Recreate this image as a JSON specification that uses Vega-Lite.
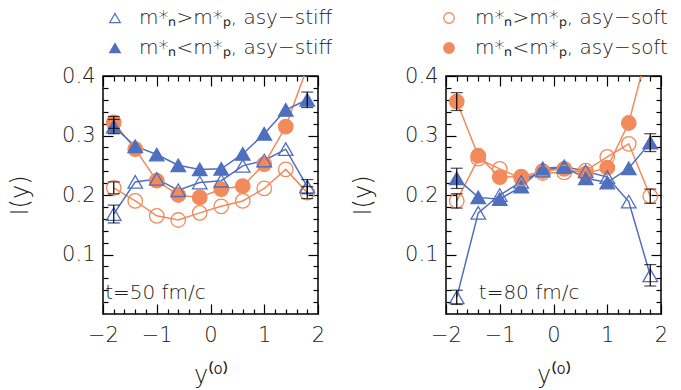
{
  "$schema": "https://vega.github.io/schema/vega-lite/v6.json",
  "background": "white",
  "padding": {"left": 7, "top": 7, "right": 5, "bottom": 2},
  "config": {
    "font": "DejaVu Sans",
    "view": {"stroke": "black", "strokeWidth": 1.5},
    "axis": {"grid": false, "domain": false, "tickColor": "black", "tickWidth": 1.2, "labelFlush": false, "labelOverlap": false, "labelColor": "#222", "titleColor": "#222", "labelFontSize": 21, "labelFontWeight": 300, "titleFontSize": 24, "titleFontWeight": 300}
  },
  "datasets": {
    "pts": [
      {"panel": "t50", "series": "m*ₙ<m*ₚ, asy−soft", "x": -1.8, "I": 0.322, "err": 0.01},
      {"panel": "t50", "series": "m*ₙ<m*ₚ, asy−soft", "x": -1.4, "I": 0.277},
      {"panel": "t50", "series": "m*ₙ<m*ₚ, asy−soft", "x": -1.0, "I": 0.224},
      {"panel": "t50", "series": "m*ₙ<m*ₚ, asy−soft", "x": -0.6, "I": 0.2},
      {"panel": "t50", "series": "m*ₙ<m*ₚ, asy−soft", "x": -0.2, "I": 0.196},
      {"panel": "t50", "series": "m*ₙ<m*ₚ, asy−soft", "x": 0.2, "I": 0.21},
      {"panel": "t50", "series": "m*ₙ<m*ₚ, asy−soft", "x": 0.6, "I": 0.215},
      {"panel": "t50", "series": "m*ₙ<m*ₚ, asy−soft", "x": 1.0, "I": 0.252},
      {"panel": "t50", "series": "m*ₙ<m*ₚ, asy−soft", "x": 1.4, "I": 0.315},
      {"panel": "t50", "series": "m*ₙ<m*ₚ, asy−soft", "x": 1.8, "I": 0.415},
      {"panel": "t50", "series": "m*ₙ>m*ₚ, asy−soft", "x": -1.8, "I": 0.212, "err": 0.01},
      {"panel": "t50", "series": "m*ₙ>m*ₚ, asy−soft", "x": -1.4, "I": 0.19},
      {"panel": "t50", "series": "m*ₙ>m*ₚ, asy−soft", "x": -1.0, "I": 0.165},
      {"panel": "t50", "series": "m*ₙ>m*ₚ, asy−soft", "x": -0.6, "I": 0.158},
      {"panel": "t50", "series": "m*ₙ>m*ₚ, asy−soft", "x": -0.2, "I": 0.17},
      {"panel": "t50", "series": "m*ₙ>m*ₚ, asy−soft", "x": 0.2, "I": 0.181},
      {"panel": "t50", "series": "m*ₙ>m*ₚ, asy−soft", "x": 0.6, "I": 0.19},
      {"panel": "t50", "series": "m*ₙ>m*ₚ, asy−soft", "x": 1.0, "I": 0.211},
      {"panel": "t50", "series": "m*ₙ>m*ₚ, asy−soft", "x": 1.4, "I": 0.243},
      {"panel": "t50", "series": "m*ₙ>m*ₚ, asy−soft", "x": 1.8, "I": 0.204, "err": 0.01},
      {"panel": "t50", "series": "m*ₙ<m*ₚ, asy−stiff", "x": -1.8, "I": 0.315, "err": 0.012},
      {"panel": "t50", "series": "m*ₙ<m*ₚ, asy−stiff", "x": -1.4, "I": 0.282},
      {"panel": "t50", "series": "m*ₙ<m*ₚ, asy−stiff", "x": -1.0, "I": 0.268},
      {"panel": "t50", "series": "m*ₙ<m*ₚ, asy−stiff", "x": -0.6, "I": 0.25},
      {"panel": "t50", "series": "m*ₙ<m*ₚ, asy−stiff", "x": -0.2, "I": 0.243},
      {"panel": "t50", "series": "m*ₙ<m*ₚ, asy−stiff", "x": 0.2, "I": 0.244},
      {"panel": "t50", "series": "m*ₙ<m*ₚ, asy−stiff", "x": 0.6, "I": 0.269},
      {"panel": "t50", "series": "m*ₙ<m*ₚ, asy−stiff", "x": 1.0, "I": 0.303},
      {"panel": "t50", "series": "m*ₙ<m*ₚ, asy−stiff", "x": 1.4, "I": 0.343},
      {"panel": "t50", "series": "m*ₙ<m*ₚ, asy−stiff", "x": 1.8, "I": 0.36, "err": 0.013},
      {"panel": "t50", "series": "m*ₙ>m*ₚ, asy−stiff", "x": -1.8, "I": 0.168, "err": 0.015},
      {"panel": "t50", "series": "m*ₙ>m*ₚ, asy−stiff", "x": -1.4, "I": 0.222},
      {"panel": "t50", "series": "m*ₙ>m*ₚ, asy−stiff", "x": -1.0, "I": 0.227},
      {"panel": "t50", "series": "m*ₙ>m*ₚ, asy−stiff", "x": -0.6, "I": 0.208},
      {"panel": "t50", "series": "m*ₙ>m*ₚ, asy−stiff", "x": -0.2, "I": 0.221},
      {"panel": "t50", "series": "m*ₙ>m*ₚ, asy−stiff", "x": 0.2, "I": 0.224},
      {"panel": "t50", "series": "m*ₙ>m*ₚ, asy−stiff", "x": 0.6, "I": 0.249},
      {"panel": "t50", "series": "m*ₙ>m*ₚ, asy−stiff", "x": 1.0, "I": 0.258},
      {"panel": "t50", "series": "m*ₙ>m*ₚ, asy−stiff", "x": 1.4, "I": 0.277},
      {"panel": "t50", "series": "m*ₙ>m*ₚ, asy−stiff", "x": 1.8, "I": 0.214, "err": 0.012},
      {"panel": "t80", "series": "m*ₙ<m*ₚ, asy−soft", "x": -1.8, "I": 0.357, "err": 0.015},
      {"panel": "t80", "series": "m*ₙ<m*ₚ, asy−soft", "x": -1.4, "I": 0.266},
      {"panel": "t80", "series": "m*ₙ<m*ₚ, asy−soft", "x": -1.0, "I": 0.23},
      {"panel": "t80", "series": "m*ₙ<m*ₚ, asy−soft", "x": -0.6, "I": 0.231},
      {"panel": "t80", "series": "m*ₙ<m*ₚ, asy−soft", "x": -0.2, "I": 0.24},
      {"panel": "t80", "series": "m*ₙ<m*ₚ, asy−soft", "x": 0.2, "I": 0.244},
      {"panel": "t80", "series": "m*ₙ<m*ₚ, asy−soft", "x": 0.6, "I": 0.236},
      {"panel": "t80", "series": "m*ₙ<m*ₚ, asy−soft", "x": 1.0, "I": 0.246},
      {"panel": "t80", "series": "m*ₙ<m*ₚ, asy−soft", "x": 1.4, "I": 0.321},
      {"panel": "t80", "series": "m*ₙ<m*ₚ, asy−soft", "x": 1.8, "I": 0.46},
      {"panel": "t80", "series": "m*ₙ>m*ₚ, asy−soft", "x": -1.8, "I": 0.19, "err": 0.012},
      {"panel": "t80", "series": "m*ₙ>m*ₚ, asy−soft", "x": -1.4, "I": 0.261},
      {"panel": "t80", "series": "m*ₙ>m*ₚ, asy−soft", "x": -1.0, "I": 0.244},
      {"panel": "t80", "series": "m*ₙ>m*ₚ, asy−soft", "x": -0.6, "I": 0.228},
      {"panel": "t80", "series": "m*ₙ>m*ₚ, asy−soft", "x": -0.2, "I": 0.237},
      {"panel": "t80", "series": "m*ₙ>m*ₚ, asy−soft", "x": 0.2, "I": 0.238},
      {"panel": "t80", "series": "m*ₙ>m*ₚ, asy−soft", "x": 0.6, "I": 0.241},
      {"panel": "t80", "series": "m*ₙ>m*ₚ, asy−soft", "x": 1.0, "I": 0.264},
      {"panel": "t80", "series": "m*ₙ>m*ₚ, asy−soft", "x": 1.4, "I": 0.286},
      {"panel": "t80", "series": "m*ₙ>m*ₚ, asy−soft", "x": 1.8, "I": 0.198, "err": 0.012},
      {"panel": "t80", "series": "m*ₙ<m*ₚ, asy−stiff", "x": -1.8, "I": 0.228, "err": 0.017},
      {"panel": "t80", "series": "m*ₙ<m*ₚ, asy−stiff", "x": -1.4, "I": 0.196},
      {"panel": "t80", "series": "m*ₙ<m*ₚ, asy−stiff", "x": -1.0, "I": 0.193},
      {"panel": "t80", "series": "m*ₙ<m*ₚ, asy−stiff", "x": -0.6, "I": 0.214},
      {"panel": "t80", "series": "m*ₙ<m*ₚ, asy−stiff", "x": -0.2, "I": 0.245},
      {"panel": "t80", "series": "m*ₙ<m*ₚ, asy−stiff", "x": 0.2, "I": 0.247},
      {"panel": "t80", "series": "m*ₙ<m*ₚ, asy−stiff", "x": 0.6, "I": 0.228},
      {"panel": "t80", "series": "m*ₙ<m*ₚ, asy−stiff", "x": 1.0, "I": 0.221},
      {"panel": "t80", "series": "m*ₙ<m*ₚ, asy−stiff", "x": 1.4, "I": 0.245},
      {"panel": "t80", "series": "m*ₙ<m*ₚ, asy−stiff", "x": 1.8, "I": 0.288, "err": 0.015},
      {"panel": "t80", "series": "m*ₙ>m*ₚ, asy−stiff", "x": -1.8, "I": 0.028, "err": 0.012},
      {"panel": "t80", "series": "m*ₙ>m*ₚ, asy−stiff", "x": -1.4, "I": 0.17},
      {"panel": "t80", "series": "m*ₙ>m*ₚ, asy−stiff", "x": -1.0, "I": 0.2},
      {"panel": "t80", "series": "m*ₙ>m*ₚ, asy−stiff", "x": -0.6, "I": 0.222},
      {"panel": "t80", "series": "m*ₙ>m*ₚ, asy−stiff", "x": -0.2, "I": 0.241},
      {"panel": "t80", "series": "m*ₙ>m*ₚ, asy−stiff", "x": 0.2, "I": 0.248},
      {"panel": "t80", "series": "m*ₙ>m*ₚ, asy−stiff", "x": 0.6, "I": 0.24},
      {"panel": "t80", "series": "m*ₙ>m*ₚ, asy−stiff", "x": 1.0, "I": 0.23},
      {"panel": "t80", "series": "m*ₙ>m*ₚ, asy−stiff", "x": 1.4, "I": 0.189},
      {"panel": "t80", "series": "m*ₙ>m*ₚ, asy−stiff", "x": 1.8, "I": 0.065, "err": 0.018}
    ]
  },
  "spacing": 128,
  "bounds": "flush",
  "resolve": {
    "scale": {"x": "independent", "y": "independent", "color": "independent", "shape": "independent", "stroke": "independent", "fill": "independent"},
    "legend": {"shape": "independent", "stroke": "independent", "fill": "independent"}
  },
  "hconcat": [
    {
      "width": 215, "height": 238,
      "data": {"name": "pts"},
      "transform": [{"filter": "datum.panel == 't50'"}],
      "resolve": {"axis": {"x": "independent", "y": "independent"}},
      "layer": [
        {
          "mark": {"type": "line", "strokeWidth": 1.5, "clip": true},
          "encoding": {
            "x": {"field": "x", "type": "quantitative", "scale": {"domain": [-2, 2], "nice": false}, "axis": {"orient": "bottom", "values": [-2, -1, 0, 1, 2], "format": "d", "tickSize": -10, "labelPadding": 20, "title": "y⁽⁰⁾", "titlePadding": 18}},
            "y": {"field": "I", "type": "quantitative", "scale": {"domain": [0, 0.4], "nice": false}, "axis": {"orient": "left", "values": [0.1, 0.2, 0.3, 0.4], "format": ".1f", "tickSize": -10, "labelPadding": 18, "title": "I(y)", "titlePadding": 29}},
            "color": {"field": "series", "type": "nominal", "scale": {"domain": ["m*ₙ>m*ₚ, asy−soft", "m*ₙ<m*ₚ, asy−soft", "m*ₙ>m*ₚ, asy−stiff", "m*ₙ<m*ₚ, asy−stiff"], "range": ["#f28a5b", "#f28a5b", "#4f6fbf", "#4f6fbf"]}, "legend": null}
          }
        },
        {
          "transform": [{"filter": {"field": "series", "oneOf": ["m*ₙ<m*ₚ, asy−soft", "m*ₙ<m*ₚ, asy−stiff"]}}],
          "mark": {"type": "point", "size": 210, "strokeWidth": 1.3, "opacity": 1, "clip": true},
          "encoding": {
            "x": {"field": "x", "type": "quantitative", "scale": {"domain": [-2, 2], "nice": false}, "axis": {"orient": "bottom", "values": [-1.8, -1.6, -1.4, -1.2, -0.8, -0.6, -0.4, -0.2, 0.2, 0.4, 0.6, 0.8, 1.2, 1.4, 1.6, 1.8], "tickSize": -5, "labels": false, "title": null}},
            "y": {"field": "I", "type": "quantitative", "scale": {"domain": [0, 0.4], "nice": false}, "axis": {"orient": "left", "values": [0.02, 0.04, 0.06, 0.08, 0.12, 0.14, 0.16, 0.18, 0.22, 0.24, 0.26, 0.28, 0.32, 0.34, 0.36, 0.38], "tickSize": -5, "labels": false, "title": null}},
            "shape": {"field": "series", "type": "nominal", "scale": {"domain": ["m*ₙ>m*ₚ, asy−stiff", "m*ₙ<m*ₚ, asy−stiff", "m*ₙ>m*ₚ, asy−soft", "m*ₙ<m*ₚ, asy−soft"], "range": ["triangle-up", "triangle-up", "circle", "circle"]}, "legend": {"orient": "none", "legendX": 2, "legendY": -68, "values": ["m*ₙ>m*ₚ, asy−stiff", "m*ₙ<m*ₚ, asy−stiff"], "title": null, "labelFontSize": 20, "labelFontWeight": 300, "labelColor": "#222", "labelLimit": 400, "symbolSize": 110, "symbolStrokeWidth": 1.3, "labelOffset": 14, "rowPadding": 10, "padding": 0}},
            "stroke": {"field": "series", "type": "nominal", "scale": {"domain": ["m*ₙ>m*ₚ, asy−stiff", "m*ₙ<m*ₚ, asy−stiff", "m*ₙ>m*ₚ, asy−soft", "m*ₙ<m*ₚ, asy−soft"], "range": ["#4f6fbf", "#4f6fbf", "#f28a5b", "#f28a5b"]}, "legend": {"orient": "none", "legendX": 2, "legendY": -68, "values": ["m*ₙ>m*ₚ, asy−stiff", "m*ₙ<m*ₚ, asy−stiff"], "title": null, "labelFontSize": 20, "labelFontWeight": 300, "labelColor": "#222", "labelLimit": 400, "symbolSize": 110, "symbolStrokeWidth": 1.3, "labelOffset": 14, "rowPadding": 10, "padding": 0}},
            "fill": {"field": "series", "type": "nominal", "scale": {"domain": ["m*ₙ>m*ₚ, asy−stiff", "m*ₙ<m*ₚ, asy−stiff", "m*ₙ>m*ₚ, asy−soft", "m*ₙ<m*ₚ, asy−soft"], "range": ["transparent", "#4f6fbf", "transparent", "#f28a5b"]}, "legend": {"orient": "none", "legendX": 2, "legendY": -68, "values": ["m*ₙ>m*ₚ, asy−stiff", "m*ₙ<m*ₚ, asy−stiff"], "title": null, "labelFontSize": 20, "labelFontWeight": 300, "labelColor": "#222", "labelLimit": 400, "symbolSize": 110, "symbolStrokeWidth": 1.3, "labelOffset": 14, "rowPadding": 10, "padding": 0}}
          }
        },
        {
          "transform": [{"filter": {"field": "series", "oneOf": ["m*ₙ>m*ₚ, asy−soft", "m*ₙ>m*ₚ, asy−stiff"]}}],
          "mark": {"type": "point", "size": 210, "strokeWidth": 1.3, "opacity": 1, "clip": true},
          "encoding": {
            "x": {"field": "x", "type": "quantitative", "scale": {"domain": [-2, 2], "nice": false}, "axis": {"orient": "top", "values": [-2, -1, 0, 1, 2], "tickSize": -10, "labels": false, "title": null}},
            "y": {"field": "I", "type": "quantitative", "scale": {"domain": [0, 0.4], "nice": false}, "axis": {"orient": "right", "values": [0.1, 0.2, 0.3, 0.4], "tickSize": -10, "labels": false, "title": null}},
            "shape": {"field": "series", "type": "nominal", "legend": {"orient": "none", "legendX": 2, "legendY": -68, "values": ["m*ₙ>m*ₚ, asy−stiff", "m*ₙ<m*ₚ, asy−stiff"], "title": null, "labelFontSize": 20, "labelFontWeight": 300, "labelColor": "#222", "labelLimit": 400, "symbolSize": 110, "symbolStrokeWidth": 1.3, "labelOffset": 14, "rowPadding": 10, "padding": 0}},
            "stroke": {"field": "series", "type": "nominal", "legend": {"orient": "none", "legendX": 2, "legendY": -68, "values": ["m*ₙ>m*ₚ, asy−stiff", "m*ₙ<m*ₚ, asy−stiff"], "title": null, "labelFontSize": 20, "labelFontWeight": 300, "labelColor": "#222", "labelLimit": 400, "symbolSize": 110, "symbolStrokeWidth": 1.3, "labelOffset": 14, "rowPadding": 10, "padding": 0}},
            "fill": {"field": "series", "type": "nominal", "legend": {"orient": "none", "legendX": 2, "legendY": -68, "values": ["m*ₙ>m*ₚ, asy−stiff", "m*ₙ<m*ₚ, asy−stiff"], "title": null, "labelFontSize": 20, "labelFontWeight": 300, "labelColor": "#222", "labelLimit": 400, "symbolSize": 110, "symbolStrokeWidth": 1.3, "labelOffset": 14, "rowPadding": 10, "padding": 0}}
          }
        },
        {
          "transform": [{"filter": "isValid(datum.err)"}],
          "mark": {"type": "errorbar", "color": "black", "thickness": 1.2, "ticks": {"size": 12, "thickness": 1.2, "color": "black"}},
          "encoding": {
            "x": {"field": "x", "type": "quantitative", "scale": {"domain": [-2, 2], "nice": false}, "axis": null},
            "y": {"field": "I", "type": "quantitative", "scale": {"domain": [0, 0.4], "nice": false}, "axis": null},
            "yError": {"field": "err"}
          }
        },
        {
          "data": {"values": [{"label": "t=50 fm/c"}]},
          "mark": {"type": "text", "align": "left", "baseline": "middle", "fontSize": 20, "fontWeight": 300, "color": "#222"},
          "encoding": {
            "text": {"field": "label"},
            "x": {"datum": -1.96, "type": "quantitative", "scale": {"domain": [-2, 2], "nice": false}, "axis": {"orient": "top", "values": [-1.8, -1.6, -1.4, -1.2, -0.8, -0.6, -0.4, -0.2, 0.2, 0.4, 0.6, 0.8, 1.2, 1.4, 1.6, 1.8], "tickSize": -5, "labels": false, "title": null}},
            "y": {"datum": 0.035, "type": "quantitative", "scale": {"domain": [0, 0.4], "nice": false}, "axis": {"orient": "right", "values": [0.02, 0.04, 0.06, 0.08, 0.12, 0.14, 0.16, 0.18, 0.22, 0.24, 0.26, 0.28, 0.32, 0.34, 0.36, 0.38], "tickSize": -5, "labels": false, "title": null}}
          }
        }
      ]
    },
    {
      "width": 215, "height": 238,
      "data": {"name": "pts"},
      "transform": [{"filter": "datum.panel == 't80'"}],
      "resolve": {"axis": {"x": "independent", "y": "independent"}},
      "layer": [
        {
          "mark": {"type": "line", "strokeWidth": 1.5, "clip": true},
          "encoding": {
            "x": {"field": "x", "type": "quantitative", "scale": {"domain": [-2, 2], "nice": false}, "axis": {"orient": "bottom", "values": [-2, -1, 0, 1, 2], "format": "d", "tickSize": -10, "labelPadding": 20, "title": "y⁽⁰⁾", "titlePadding": 18}},
            "y": {"field": "I", "type": "quantitative", "scale": {"domain": [0, 0.4], "nice": false}, "axis": {"orient": "left", "values": [0.1, 0.2, 0.3, 0.4], "format": ".1f", "tickSize": -10, "labelPadding": 18, "title": "I(y)", "titlePadding": 29}},
            "color": {"field": "series", "type": "nominal", "scale": {"domain": ["m*ₙ>m*ₚ, asy−soft", "m*ₙ<m*ₚ, asy−soft", "m*ₙ>m*ₚ, asy−stiff", "m*ₙ<m*ₚ, asy−stiff"], "range": ["#f28a5b", "#f28a5b", "#4f6fbf", "#4f6fbf"]}, "legend": null}
          }
        },
        {
          "transform": [{"filter": {"field": "series", "oneOf": ["m*ₙ<m*ₚ, asy−soft", "m*ₙ<m*ₚ, asy−stiff"]}}],
          "mark": {"type": "point", "size": 210, "strokeWidth": 1.3, "opacity": 1, "clip": true},
          "encoding": {
            "x": {"field": "x", "type": "quantitative", "scale": {"domain": [-2, 2], "nice": false}, "axis": {"orient": "bottom", "values": [-1.8, -1.6, -1.4, -1.2, -0.8, -0.6, -0.4, -0.2, 0.2, 0.4, 0.6, 0.8, 1.2, 1.4, 1.6, 1.8], "tickSize": -5, "labels": false, "title": null}},
            "y": {"field": "I", "type": "quantitative", "scale": {"domain": [0, 0.4], "nice": false}, "axis": {"orient": "left", "values": [0.02, 0.04, 0.06, 0.08, 0.12, 0.14, 0.16, 0.18, 0.22, 0.24, 0.26, 0.28, 0.32, 0.34, 0.36, 0.38], "tickSize": -5, "labels": false, "title": null}},
            "shape": {"field": "series", "type": "nominal", "scale": {"domain": ["m*ₙ>m*ₚ, asy−stiff", "m*ₙ<m*ₚ, asy−stiff", "m*ₙ>m*ₚ, asy−soft", "m*ₙ<m*ₚ, asy−soft"], "range": ["triangle-up", "triangle-up", "circle", "circle"]}, "legend": {"orient": "none", "legendX": -7, "legendY": -68, "values": ["m*ₙ>m*ₚ, asy−soft", "m*ₙ<m*ₚ, asy−soft"], "title": null, "labelFontSize": 20, "labelFontWeight": 300, "labelColor": "#222", "labelLimit": 400, "symbolSize": 110, "symbolStrokeWidth": 1.3, "labelOffset": 16, "rowPadding": 10, "padding": 0}},
            "stroke": {"field": "series", "type": "nominal", "scale": {"domain": ["m*ₙ>m*ₚ, asy−stiff", "m*ₙ<m*ₚ, asy−stiff", "m*ₙ>m*ₚ, asy−soft", "m*ₙ<m*ₚ, asy−soft"], "range": ["#4f6fbf", "#4f6fbf", "#f28a5b", "#f28a5b"]}, "legend": {"orient": "none", "legendX": -7, "legendY": -68, "values": ["m*ₙ>m*ₚ, asy−soft", "m*ₙ<m*ₚ, asy−soft"], "title": null, "labelFontSize": 20, "labelFontWeight": 300, "labelColor": "#222", "labelLimit": 400, "symbolSize": 110, "symbolStrokeWidth": 1.3, "labelOffset": 16, "rowPadding": 10, "padding": 0}},
            "fill": {"field": "series", "type": "nominal", "scale": {"domain": ["m*ₙ>m*ₚ, asy−stiff", "m*ₙ<m*ₚ, asy−stiff", "m*ₙ>m*ₚ, asy−soft", "m*ₙ<m*ₚ, asy−soft"], "range": ["transparent", "#4f6fbf", "transparent", "#f28a5b"]}, "legend": {"orient": "none", "legendX": -7, "legendY": -68, "values": ["m*ₙ>m*ₚ, asy−soft", "m*ₙ<m*ₚ, asy−soft"], "title": null, "labelFontSize": 20, "labelFontWeight": 300, "labelColor": "#222", "labelLimit": 400, "symbolSize": 110, "symbolStrokeWidth": 1.3, "labelOffset": 16, "rowPadding": 10, "padding": 0}}
          }
        },
        {
          "transform": [{"filter": {"field": "series", "oneOf": ["m*ₙ>m*ₚ, asy−soft", "m*ₙ>m*ₚ, asy−stiff"]}}],
          "mark": {"type": "point", "size": 210, "strokeWidth": 1.3, "opacity": 1, "clip": true},
          "encoding": {
            "x": {"field": "x", "type": "quantitative", "scale": {"domain": [-2, 2], "nice": false}, "axis": {"orient": "top", "values": [-2, -1, 0, 1, 2], "tickSize": -10, "labels": false, "title": null}},
            "y": {"field": "I", "type": "quantitative", "scale": {"domain": [0, 0.4], "nice": false}, "axis": {"orient": "right", "values": [0.1, 0.2, 0.3, 0.4], "tickSize": -10, "labels": false, "title": null}},
            "shape": {"field": "series", "type": "nominal", "legend": {"orient": "none", "legendX": -7, "legendY": -68, "values": ["m*ₙ>m*ₚ, asy−soft", "m*ₙ<m*ₚ, asy−soft"], "title": null, "labelFontSize": 20, "labelFontWeight": 300, "labelColor": "#222", "labelLimit": 400, "symbolSize": 110, "symbolStrokeWidth": 1.3, "labelOffset": 16, "rowPadding": 10, "padding": 0}},
            "stroke": {"field": "series", "type": "nominal", "legend": {"orient": "none", "legendX": -7, "legendY": -68, "values": ["m*ₙ>m*ₚ, asy−soft", "m*ₙ<m*ₚ, asy−soft"], "title": null, "labelFontSize": 20, "labelFontWeight": 300, "labelColor": "#222", "labelLimit": 400, "symbolSize": 110, "symbolStrokeWidth": 1.3, "labelOffset": 16, "rowPadding": 10, "padding": 0}},
            "fill": {"field": "series", "type": "nominal", "legend": {"orient": "none", "legendX": -7, "legendY": -68, "values": ["m*ₙ>m*ₚ, asy−soft", "m*ₙ<m*ₚ, asy−soft"], "title": null, "labelFontSize": 20, "labelFontWeight": 300, "labelColor": "#222", "labelLimit": 400, "symbolSize": 110, "symbolStrokeWidth": 1.3, "labelOffset": 16, "rowPadding": 10, "padding": 0}}
          }
        },
        {
          "transform": [{"filter": "isValid(datum.err)"}],
          "mark": {"type": "errorbar", "color": "black", "thickness": 1.2, "ticks": {"size": 12, "thickness": 1.2, "color": "black"}},
          "encoding": {
            "x": {"field": "x", "type": "quantitative", "scale": {"domain": [-2, 2], "nice": false}, "axis": null},
            "y": {"field": "I", "type": "quantitative", "scale": {"domain": [0, 0.4], "nice": false}, "axis": null},
            "yError": {"field": "err"}
          }
        },
        {
          "data": {"values": [{"label": "t=80 fm/c"}]},
          "mark": {"type": "text", "align": "left", "baseline": "middle", "fontSize": 20, "fontWeight": 300, "color": "#222"},
          "encoding": {
            "text": {"field": "label"},
            "x": {"datum": -1.39, "type": "quantitative", "scale": {"domain": [-2, 2], "nice": false}, "axis": {"orient": "top", "values": [-1.8, -1.6, -1.4, -1.2, -0.8, -0.6, -0.4, -0.2, 0.2, 0.4, 0.6, 0.8, 1.2, 1.4, 1.6, 1.8], "tickSize": -5, "labels": false, "title": null}},
            "y": {"datum": 0.035, "type": "quantitative", "scale": {"domain": [0, 0.4], "nice": false}, "axis": {"orient": "right", "values": [0.02, 0.04, 0.06, 0.08, 0.12, 0.14, 0.16, 0.18, 0.22, 0.24, 0.26, 0.28, 0.32, 0.34, 0.36, 0.38], "tickSize": -5, "labels": false, "title": null}}
          }
        }
      ]
    }
  ]
}
